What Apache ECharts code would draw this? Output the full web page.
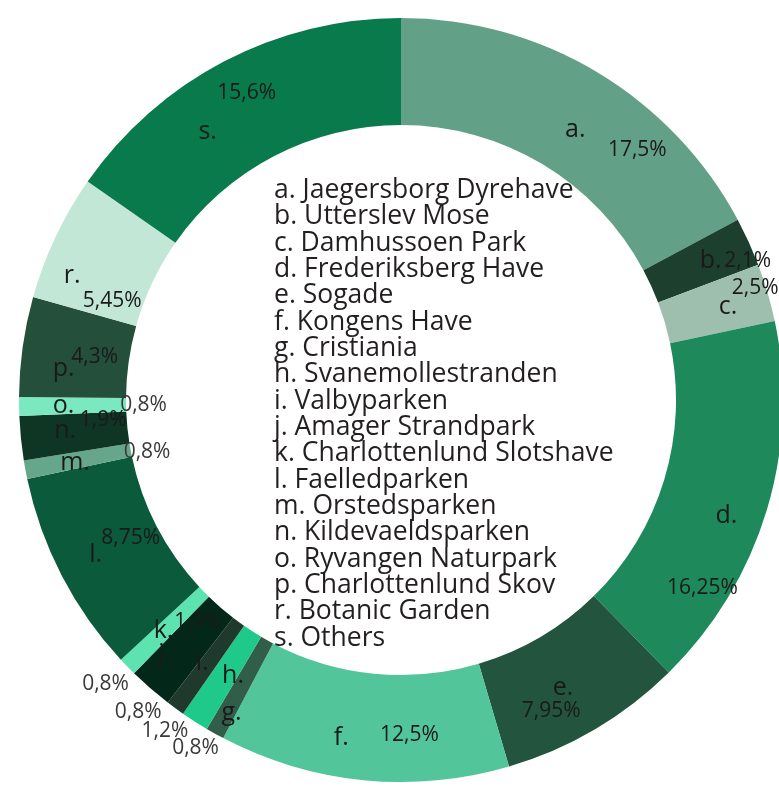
<!DOCTYPE html>
<html>
<head>
<meta charset="utf-8">
<script src="https://cdn.jsdelivr.net/npm/echarts@6/dist/echarts.min.js"></script>
<style>
  html, body { margin: 0; background: #fff; }
  #main { width: 779px; height: 787px; }
</style>
</head>
<body>
<div id="main"></div>
<script>
var letters = ['a', 'b', 'c', 'd', 'e', 'f', 'g', 'h', 'i', 'j', 'k', 'l', 'm', 'n', 'o', 'p', 'r', 's'];
var parks = ['Jaegersborg Dyrehave', 'Utterslev Mose', 'Damhussoen Park', 'Frederiksberg Have', 'Sogade',
  'Kongens Have', 'Cristiania', 'Svanemollestranden', 'Valbyparken', 'Amager Strandpark',
  'Charlottenlund Slotshave', 'Faelledparken', 'Orstedsparken', 'Kildevaeldsparken',
  'Ryvangen Naturpark', 'Charlottenlund Skov', 'Botanic Garden', 'Others'];
var shares = [17.5, 2.1, 2.5, 16.25, 7.95, 12.5, 0.8, 1.2, 0.8, 1.9, 0.8, 8.75, 0.8, 1.9, 0.8, 4.3, 5.45, 15.6];

var colors = ['#62a187', '#1d3f2d', '#9fbfae', '#1e8a5c', '#23553e', '#52c59b', '#315e49', '#1ec98a', '#1f3a2c',
  '#03281a', '#5de3b0', '#0a5a3b', '#66a68a', '#0f3525', '#7be9bf', '#244f3b', '#c3e7d7', '#087a4c'];

// nudges of the labels away from the middle of their slice
var letterShift = [[4, 14], [8, -2], [9, 0], [8, 20], [-6, 2], [-27, 8], [-8, 23], [11, -3], [-3, -5],
  [-19, 4], [0, 0], [-11, 2], [0, 2], [-6, -2], [-6, 0], [-9, 15], [-29, 17], [-40, 26]];
var shareShift = [[66, 34], [45, -2], [36, -19], [-16, 92], [-18, 25], [41, 5], [-44, 58], [-57, 52], [-67, 45],
  [14, -28], [-58, 53], [24, -14], [72, -8], [32, -13], [74, -1], [22, 3], [11, 42], [-1, -13]];
var outside = ['g', 'h', 'i', 'k', 'm', 'o'];

var font = 'Open Sans';
var myChart = echarts.init(document.getElementById('main'));

var slices = parks.map(function (p, i) {
  return { name: p, value: shares[i], itemStyle: { color: colors[i] } };
});
var ghost = parks.map(function (p, i) {
  return {
    name: p, value: shares[i],
    label: { color: outside.indexOf(letters[i]) >= 0 ? '#3a3a3a' : '#1a1a1a' }
  };
});

option = {
  animation: false,
  legend: {
    orient: 'vertical',
    left: 264,
    top: 172,
    itemWidth: 0,
    itemHeight: 0,
    itemGap: -0.66,
    selectedMode: false,
    data: parks,
    formatter: function (name) {
      return letters[parks.indexOf(name)] + '. ' + name;
    },
    textStyle: { fontFamily: font, fontSize: 26.5, lineHeight: 26.4, color: '#231f20' }
  },
  series: [{
    name: 'parks',
    type: 'pie',
    radius: [275, 382],
    center: [401, 400],
    startAngle: 90,
    silent: true,
    avoidLabelOverlap: false,
    itemStyle: { borderWidth: 0 },
    emphasis: { disabled: true },
    label: {
      show: true,
      position: 'inside',
      fontFamily: font,
      fontSize: 25,
      color: '#1a1a1a',
      formatter: function (p) { return letters[p.dataIndex] + '.'; }
    },
    labelLine: { show: false },
    labelLayout: function (p) {
      return { dx: letterShift[p.dataIndex][0], dy: letterShift[p.dataIndex][1] };
    },
    data: slices
  }, {
    name: 'shares',
    type: 'pie',
    radius: [275, 382],
    center: [401, 400],
    startAngle: 90,
    silent: true,
    avoidLabelOverlap: false,
    itemStyle: { color: 'rgba(0,0,0,0)', borderWidth: 0 },
    emphasis: { disabled: true },
    label: {
      show: true,
      position: 'inside',
      fontFamily: font,
      fontSize: 21,
      formatter: function (p) { return String(p.value).replace('.', ',') + '%'; }
    },
    labelLine: { show: false },
    labelLayout: function (p) {
      return { dx: shareShift[p.dataIndex][0], dy: shareShift[p.dataIndex][1] };
    },
    data: ghost
  }]
};
myChart.setOption(option);
</script>
</body>
</html>
